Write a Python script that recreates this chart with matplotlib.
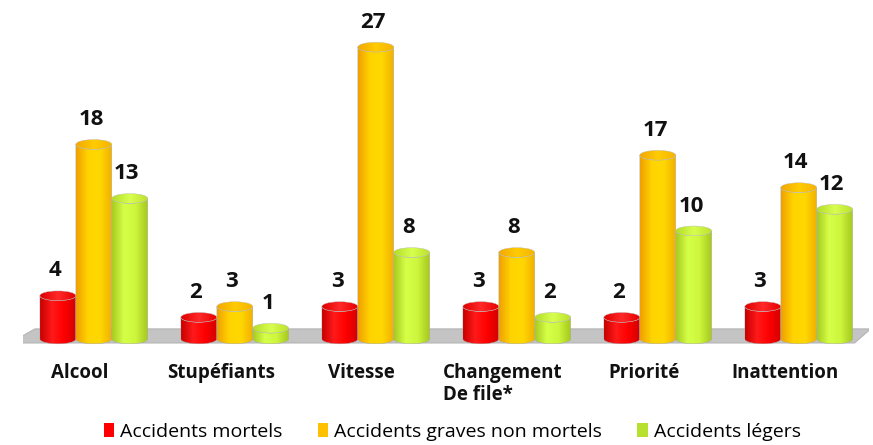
import numpy as np
import matplotlib.pyplot as plt
from matplotlib.patches import Ellipse, Polygon, PathPatch, Patch
from matplotlib.path import Path
from matplotlib.colors import LinearSegmentedColormap

categories = ['Alcool', 'Stupéfiants', 'Vitesse', 'Changement\nDe file*', 'Priorité', 'Inattention']
mortels = [4, 2, 3, 3, 2, 3]
graves = [18, 3, 27, 8, 17, 14]
legers = [13, 1, 8, 2, 10, 12]
series_names = ['Accidents mortels', 'Accidents graves non mortels', 'Accidents légers']

# body gradient (edge -> centre -> edge) and top colours for each series
body_cols = [['#c80000', '#ff1a1a', '#ff0000', '#d40000'],
             ['#f0a000', '#ffd400', '#ffd800', '#f2b000'],
             ['#a8cc20', '#d6ff48', '#ccf53c', '#a6c81e']]
top_cols = [['#e00000', '#ff2a2a', '#e80000'],
            ['#f2a800', '#ffcc00', '#f5b400'],
            ['#b4dc28', '#d8ff50', '#bce02c']]
legend_cols = ['#ff0000', '#ffc000', '#b8e030']

plt.rcParams['font.family'] = ['Open Sans', 'DejaVu Sans']

fig = plt.figure(figsize=(8.73, 4.45), dpi=100)
ax = fig.add_axes([0.0267, 0.1897, 0.9690, 0.7773])
ax.set_xlim(-0.5, 5.5)
ax.set_ylim(-2, 30)
ax.axis('off')

# floor
floor = Polygon([(-0.594, -0.37), (5.396, -0.37), (5.51, 0.93), (-0.417, 0.93)],
                closed=True, facecolor='#c4c4c4', edgecolor='#b4b4b4', lw=0.8, zorder=1)
ax.add_patch(floor)

bw = 0.255
eh = 0.45  # half height of ellipse in data units
x = np.arange(len(categories))
offsets = [-bw, 0, bw]
t = np.linspace(np.pi, 2 * np.pi, 40)

for k, vals in enumerate([mortels, graves, legers]):
    cmap_body = LinearSegmentedColormap.from_list('b%d' % k, body_cols[k])
    cmap_top = LinearSegmentedColormap.from_list('t%d' % k, top_cols[k])
    grad = np.linspace(0, 1, 64).reshape(1, -1)
    for i, v in enumerate(vals):
        cx = x[i] + offsets[k]
        x0, x1 = cx - bw / 2, cx + bw / 2
        # body outline: left side, bottom front arc, right side, top front arc
        bottom = np.column_stack([cx + bw / 2 * np.cos(t), eh * np.sin(t)])
        topfront = np.column_stack([cx + bw / 2 * np.cos(t), v + eh * np.sin(t)])[::-1]
        verts = np.vstack([[[x0, v]], bottom, [[x1, v]], topfront, [[x0, v]]])
        body = PathPatch(Path(verts), facecolor='none', edgecolor='#a8a8a8', lw=0.3, zorder=3 + k)
        ax.add_patch(body)
        im = ax.imshow(grad, cmap=cmap_body, extent=[x0, x1, -eh, v + eh],
                       aspect='auto', zorder=2 + k, interpolation='bicubic')
        im.set_clip_path(body)
        top = Ellipse((cx, v), bw, 2 * eh, facecolor='none', edgecolor='#bcbcbc', lw=0.3, zorder=3.5 + k)
        ax.add_patch(top)
        imt = ax.imshow(grad, cmap=cmap_top, extent=[x0, x1, v - eh, v + eh],
                        aspect='auto', zorder=3.2 + k, interpolation='bicubic')
        imt.set_clip_path(top)
        ax.text(cx - 0.02, v + 2.3, str(v), ha='center', va='center',
                fontsize=16, fontweight='bold', color='#111111', zorder=10)

ax.set_xlim(-0.5, 5.5)
ax.set_ylim(-2, 30)

for i, c in enumerate(categories):
    ax.text(x[i] - 0.1, -2.2, c, ha='center', va='top', multialignment='left',
            fontsize=13.5, fontweight='bold', color='#111111', linespacing=1.15)

handles = [Patch(facecolor=legend_cols[k], edgecolor='none') for k in range(3)]
fig.legend(handles, series_names, loc='center', bbox_to_anchor=(0.518, 0.03), ncol=3,
           frameon=False, fontsize=14, handlelength=0.55, handleheight=0.8,
           handletextpad=0.3, columnspacing=1.8, borderpad=0)

fig.savefig('out.png', dpi=100)
